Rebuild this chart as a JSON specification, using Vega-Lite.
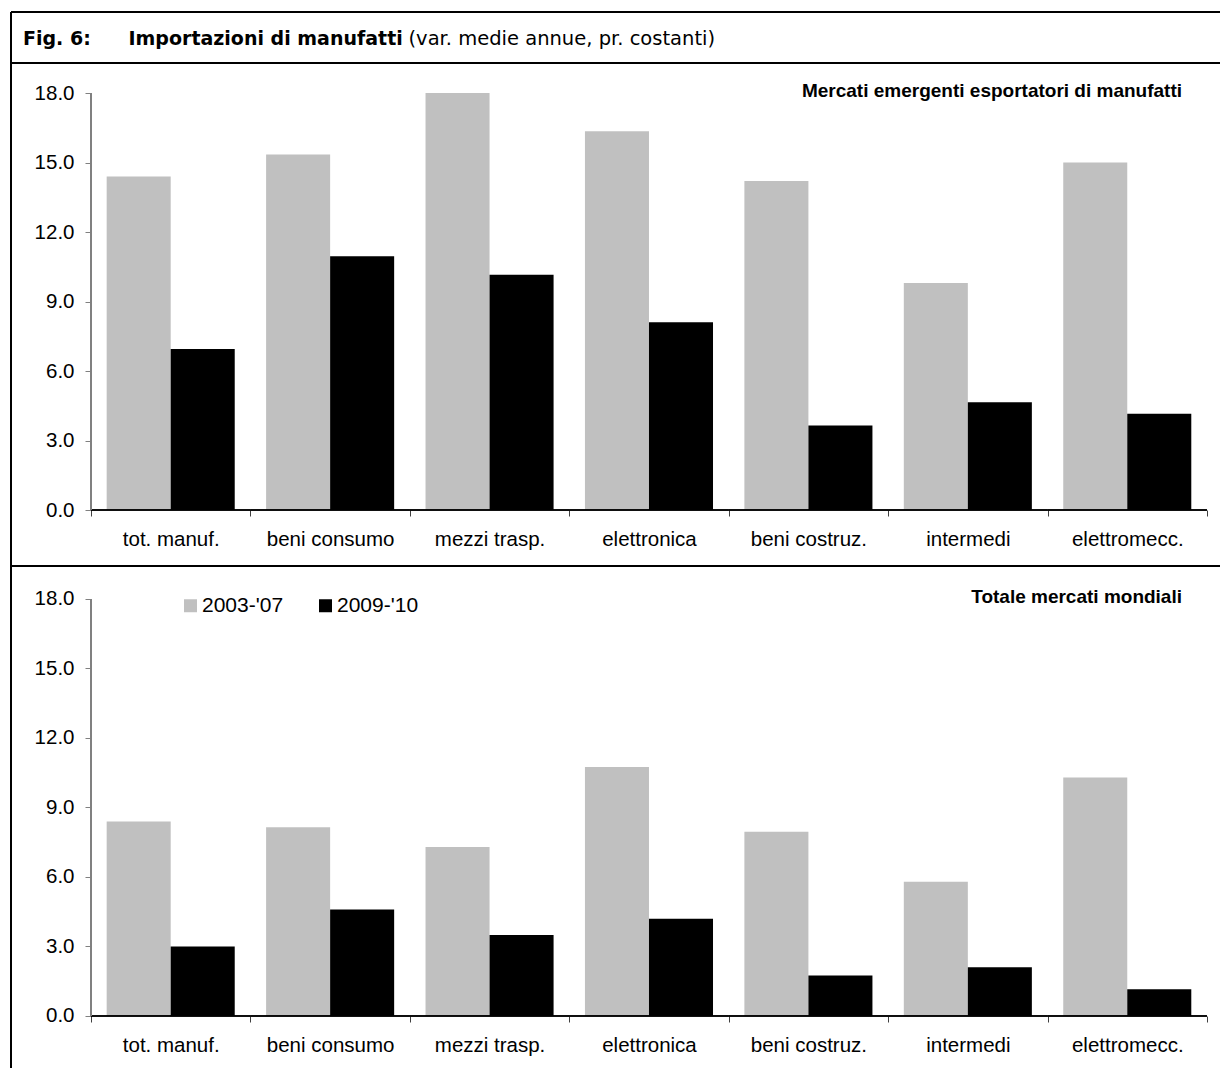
{
  "$schema": "https://vega.github.io/schema/vega-lite/v6.json",
  "padding": {"left": 10, "top": 11, "right": 0, "bottom": 0},
  "background": "white",
  "spacing": 0,
  "bounds": "flush",
  "config": {
    "view": {"stroke": "black", "strokeWidth": 2},
    "font": "Liberation Sans"
  },
  "datasets": {
    "emergenti": [
      {"cat": "tot. manuf.", "periodo": "2003-'07", "valore": 14.4},
      {"cat": "tot. manuf.", "periodo": "2009-'10", "valore": 6.95},
      {"cat": "beni consumo", "periodo": "2003-'07", "valore": 15.35},
      {"cat": "beni consumo", "periodo": "2009-'10", "valore": 10.95},
      {"cat": "mezzi trasp.", "periodo": "2003-'07", "valore": 18.0},
      {"cat": "mezzi trasp.", "periodo": "2009-'10", "valore": 10.15},
      {"cat": "elettronica", "periodo": "2003-'07", "valore": 16.35},
      {"cat": "elettronica", "periodo": "2009-'10", "valore": 8.1},
      {"cat": "beni costruz.", "periodo": "2003-'07", "valore": 14.2},
      {"cat": "beni costruz.", "periodo": "2009-'10", "valore": 3.65},
      {"cat": "intermedi", "periodo": "2003-'07", "valore": 9.8},
      {"cat": "intermedi", "periodo": "2009-'10", "valore": 4.65},
      {"cat": "elettromecc.", "periodo": "2003-'07", "valore": 15.0},
      {"cat": "elettromecc.", "periodo": "2009-'10", "valore": 4.15}
    ],
    "mondiali": [
      {"cat": "tot. manuf.", "periodo": "2003-'07", "valore": 8.4},
      {"cat": "tot. manuf.", "periodo": "2009-'10", "valore": 3.0},
      {"cat": "beni consumo", "periodo": "2003-'07", "valore": 8.15},
      {"cat": "beni consumo", "periodo": "2009-'10", "valore": 4.6},
      {"cat": "mezzi trasp.", "periodo": "2003-'07", "valore": 7.3},
      {"cat": "mezzi trasp.", "periodo": "2009-'10", "valore": 3.5},
      {"cat": "elettronica", "periodo": "2003-'07", "valore": 10.75},
      {"cat": "elettronica", "periodo": "2009-'10", "valore": 4.2},
      {"cat": "beni costruz.", "periodo": "2003-'07", "valore": 7.95},
      {"cat": "beni costruz.", "periodo": "2009-'10", "valore": 1.75},
      {"cat": "intermedi", "periodo": "2003-'07", "valore": 5.8},
      {"cat": "intermedi", "periodo": "2009-'10", "valore": 2.1},
      {"cat": "elettromecc.", "periodo": "2003-'07", "valore": 10.3},
      {"cat": "elettromecc.", "periodo": "2009-'10", "valore": 1.15}
    ]
  },
  "resolve": {
    "scale": {"x": "independent", "y": "independent", "color": "independent", "xOffset": "independent"},
    "axis": {"x": "independent", "y": "independent"},
    "legend": {"color": "independent"}
  },
  "vconcat": [
    {
      "width": 1209,
      "height": 51,
      "view": {"stroke": "black", "strokeWidth": 2, "strokeDash": [1209, 51, 1260, 0]},
      "data": {"values": []},
      "mark": "point",
      "title": {"text": "Fig. 6:", "anchor": "start", "orient": "top", "offset": -52, "baseline": "alphabetic", "dx": 12, "font": "DejaVu Sans", "fontSize": 19, "fontWeight": "bold", "color": "black"},
      "encoding": {
        "x": {"field": "v", "type": "quantitative", "scale": {"domain": [0, 1]},
          "axis": {"orient": "top", "title": "Importazioni di manufatti", "titleX": 117, "titleY": 32, "titleAlign": "left", "titleBaseline": "alphabetic", "titleFont": "DejaVu Sans", "titleFontSize": 19, "titleFontWeight": "bold", "titleColor": "black", "labels": false, "ticks": false, "domain": false, "grid": false}},
        "y": {"field": "v", "type": "quantitative", "scale": {"domain": [0, 1]},
          "axis": {"title": "(var. medie annue, pr. costanti)", "titleAngle": 0, "titleX": 397, "titleY": 32, "titleAlign": "left", "titleBaseline": "alphabetic", "titleFont": "DejaVu Sans", "titleFontSize": 19.5, "titleFontWeight": "normal", "titleColor": "black", "labels": false, "ticks": false, "domain": false, "grid": false}}
      }
    },
    {
      "width": 1209,
      "height": 503,
      "view": {"stroke": "black", "strokeWidth": 2, "strokeDash": [1209, 503, 1712, 0]},
      "data": {"name": "emergenti"},
      "title": {"text": "Mercati emergenti esportatori di manufatti", "orient": "top", "anchor": "end", "offset": -53, "baseline": "alphabetic", "dx": -38, "font": "Liberation Sans", "fontSize": 19, "fontWeight": "bold", "color": "black"},
      "layer": [
        {
          "mark": {"type": "bar"},
          "encoding": {
            "x": {"field": "cat", "type": "nominal", "sort": null,
              "scale": {"paddingInner": 0, "paddingOuter": 0.2917, "align": 0.86},
              "axis": {"title": null, "orient": "bottom", "offset": -56, "domain": false, "tickBand": "extent", "tickSize": 6, "tickColor": "#404040", "labelFont": "Liberation Sans", "labelFontSize": 20.5, "labelColor": "black", "labelAngle": 0, "labelPadding": 29, "labelBaseline": "alphabetic", "grid": false}},
            "xOffset": {"field": "periodo", "type": "nominal", "scale": {"paddingInner": 0, "paddingOuter": 0.245}},
            "y": {"field": "valore", "type": "quantitative",
              "scale": {"domain": [-2.417, 19.295], "nice": false, "zero": false},
              "axis": {"title": null, "values": [0, 3, 6, 9, 12, 15, 18], "format": ".1f", "offset": -80, "domain": false, "tickSize": 6, "tickColor": "#808080", "labelFont": "Liberation Sans", "labelFontSize": 20.5, "labelPadding": 11, "labelColor": "black", "grid": false}},
            "y2": {"datum": 0},
            "color": {"field": "periodo", "type": "nominal", "scale": {"domain": ["2003-'07", "2009-'10"], "range": ["#C0C0C0", "#000000"]}, "legend": null}
          }
        },
        {
          "mark": {"type": "bar", "fill": null, "stroke": "black", "strokeWidth": 1},
          "encoding": {
            "x": {"field": "cat", "type": "nominal", "sort": null},
            "y": {"datum": 0},
            "y2": {"datum": 0}
          }
        },
        {
          "mark": {"type": "rule", "color": "#808080", "strokeWidth": 1.5},
          "encoding": {
            "x": {"datum": "tot. manuf.", "bandPosition": 0},
            "y": {"datum": 0},
            "y2": {"datum": 18}
          }
        }
      ]
    },
    {
      "width": 1209,
      "height": 502,
      "view": {"stroke": "black", "strokeWidth": 2, "strokeDash": [1209, 1711, 502, 0]},
      "data": {"name": "mondiali"},
      "title": {"text": "Totale mercati mondiali", "orient": "top", "anchor": "end", "offset": -56, "baseline": "alphabetic", "dx": -38, "font": "Liberation Sans", "fontSize": 19, "fontWeight": "bold", "color": "black"},
      "layer": [
        {
          "mark": {"type": "bar"},
          "encoding": {
            "x": {"field": "cat", "type": "nominal", "sort": null,
              "scale": {"paddingInner": 0, "paddingOuter": 0.2917, "align": 0.86},
              "axis": {"title": null, "orient": "bottom", "offset": -52, "domain": false, "tickBand": "extent", "tickSize": 6, "tickColor": "#404040", "labelFont": "Liberation Sans", "labelFontSize": 20.5, "labelColor": "black", "labelAngle": 0, "labelPadding": 29, "labelBaseline": "alphabetic", "grid": false}},
            "xOffset": {"field": "periodo", "type": "nominal", "scale": {"paddingInner": 0, "paddingOuter": 0.245}},
            "y": {"field": "valore", "type": "quantitative",
              "scale": {"domain": [-2.2446, 19.424], "nice": false, "zero": false},
              "axis": {"title": null, "values": [0, 3, 6, 9, 12, 15, 18], "format": ".1f", "offset": -80, "domain": false, "tickSize": 6, "tickColor": "#808080", "labelFont": "Liberation Sans", "labelFontSize": 20.5, "labelPadding": 11, "labelColor": "black", "grid": false}},
            "y2": {"datum": 0},
            "color": {"field": "periodo", "type": "nominal", "scale": {"domain": ["2003-'07", "2009-'10"], "range": ["#C0C0C0", "#000000"]},
              "legend": {"title": null, "orient": "none", "legendX": 169, "legendY": 29, "direction": "horizontal", "symbolType": "square", "symbolSize": 169, "symbolStrokeWidth": 0, "labelFont": "Liberation Sans", "labelFontSize": 21, "labelColor": "black", "labelOffset": 1, "columnPadding": 31}}
          }
        },
        {
          "mark": {"type": "bar", "fill": null, "stroke": "black", "strokeWidth": 1},
          "encoding": {
            "x": {"field": "cat", "type": "nominal", "sort": null},
            "y": {"datum": 0},
            "y2": {"datum": 0}
          }
        },
        {
          "mark": {"type": "rule", "color": "#808080", "strokeWidth": 1.5},
          "encoding": {
            "x": {"datum": "tot. manuf.", "bandPosition": 0},
            "y": {"datum": 0},
            "y2": {"datum": 18}
          }
        }
      ]
    }
  ]
}
